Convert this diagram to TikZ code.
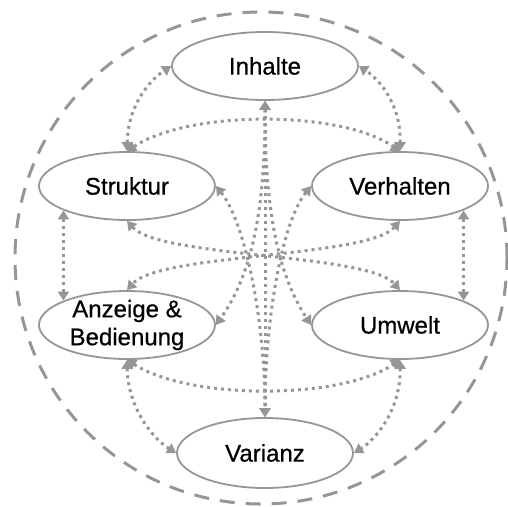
\documentclass[tikz,border=0pt]{standalone}
\usepackage{fontspec}
\setmainfont{Liberation Sans}
\newfontfamily\boxfont{Liberation Sans}[FakeBold=0.6]
\usetikzlibrary{shapes.geometric,arrows.meta}
\definecolor{linegray}{RGB}{150,150,150}
\begin{document}
\begin{tikzpicture}[x=1pt,y=-1pt,
        box/.style={ellipse, draw=linegray, line width=1.8pt, fill=white, minimum width=176pt, minimum height=68pt, inner sep=0pt, align=center, font=\boxfont\fontsize{24}{28}\selectfont},
        link/.style={<->, linegray, line width=3pt, dash pattern=on 3pt off 4pt, >={Triangle[length=9pt,width=11pt]}}]
        \useasboundingbox (0,0) rectangle (508,506);
        \draw[linegray, line width=3pt, dash pattern=on 15pt off 11pt] (261,258) circle (246pt);
        \node[box, minimum width=186pt] (inh) at (265,66) {Inhalte};
        \node[box] (str) at (127,186) {Struktur};
        \node[box] (ver) at (400,186) {Verhalten};
        \node[box, inner sep=-10pt] (anz) at (127,325) {Anzeige \&\\Bedienung};
        \node[box] (umw) at (400,325) {Umwelt};
        \node[box, minimum height=70pt] (var) at (265,453) {Varianz};
        \draw[link] (str.north) .. controls (128,105) and (150,80) .. (inh.west);
        \draw[link] (ver.north) .. controls (401,105) and (380,80) .. (inh.east);
        \draw[link] (str.north) .. controls (190,110) and (340,110) .. (ver.north);
        \draw[link] (anz.south) .. controls (190,400) and (340,400) .. (umw.south);
        \draw[link] (inh.south) -- (var.north);
        \draw[link] (str.201) -- (anz.159);
        \draw[link] (ver.339) -- (umw.21);
        \draw[link] (anz.south) .. controls (128,410) and (155,440) .. (var.west);
        \draw[link] (umw.south) .. controls (401,410) and (375,440) .. (var.east);
        \draw[link] (str.south) .. controls (160,258) and (367,253) .. (umw.north);
        \draw[link] (ver.south) .. controls (367,258) and (160,253) .. (anz.north);
        \draw[link] (str.east) .. controls (245,222) and (265,320) .. (var.north);
        \draw[link] (ver.west) .. controls (282,222) and (265,320) .. (var.north);
        \draw[link] (inh.south) .. controls (265,200) and (255,270) .. (anz.east);
        \draw[link] (inh.south) .. controls (265,200) and (275,270) .. (umw.west);
\end{tikzpicture}
\end{document}
